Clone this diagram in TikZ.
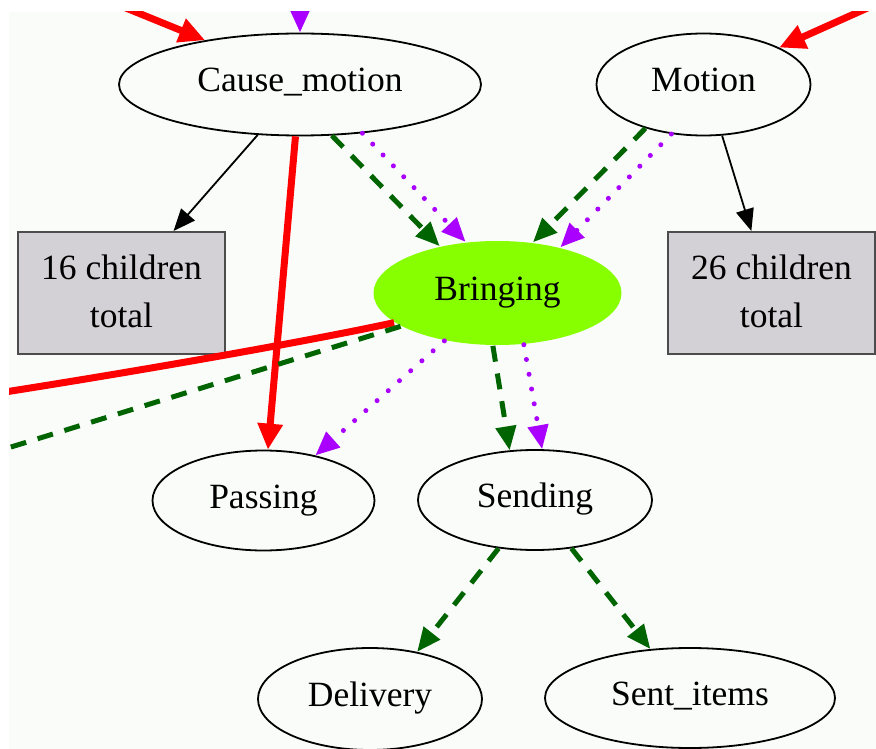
\documentclass[tikz,border=0pt]{standalone}
\usepackage{fontspec}
\setmainfont{Liberation Serif}
\usetikzlibrary{shapes.geometric,arrows.meta}
\definecolor{bgc}{RGB}{250,252,250}
\definecolor{gvgreen}{RGB}{0,100,0}
\definecolor{gvpurple}{RGB}{170,0,255}
\definecolor{gvred}{RGB}{255,0,0}
\definecolor{boxgray}{RGB}{211,209,214}
\definecolor{bringfill}{RGB}{136,255,0}
\begin{document}
\begin{tikzpicture}[x=1pt,y=-1pt,
  ell/.style={ellipse, draw=black, line width=1.8pt, inner sep=0pt, text height=23pt, text depth=8pt, font=\fontsize{35.5}{42}\selectfont},
  kidbox/.style={rectangle, draw=black!70, fill=boxgray, line width=2pt, inner sep=0pt, minimum width=207pt, minimum height=122pt, align=center, font=\fontsize{35.5}{48}\selectfont},
  plainedge/.style={draw=black, line width=1.8pt, -{Triangle[length=22pt,width=18pt]}},
  redge/.style={draw=gvred, line width=7pt, -{Triangle[length=26pt,width=24pt]}},
  redline/.style={draw=gvred, line width=7pt},
  gedge/.style={draw=gvgreen, line width=5pt, dash pattern=on 16pt off 12pt, -{Triangle[length=24pt,width=20pt]}},
  gline/.style={draw=gvgreen, line width=5pt, dash pattern=on 16pt off 12pt},
  pedge/.style={draw=gvpurple, line width=5pt, line cap=round, dash pattern=on 0pt off 15pt, -{Triangle[length=24pt,width=20pt]}},
]
\useasboundingbox (0,0) rectangle (876,749);
\fill[white] (0,0) rectangle (876,749);
\fill[bgc] (9,12) rectangle (876,749);

% nodes
\node[ell, minimum width=362pt, minimum height=102pt] (cm) at (300,84.5) {Cause\_motion};
\node[ell, minimum width=214pt, minimum height=102pt] (mo) at (703.5,84.5) {Motion};
\node[kidbox] (k16) at (121.5,293) {\raisebox{3pt}{16 children}\\\raisebox{3pt}{total}};
\node[kidbox] (k26) at (771.5,293) {\raisebox{3pt}{26 children}\\\raisebox{3pt}{total}};
\node[ell, draw=none, fill=bringfill, minimum width=248pt, minimum height=104pt] (br) at (497.5,293) {Bringing};
\node[ell, minimum width=222pt, minimum height=100pt] (pa) at (263.5,500.5) {Passing};
\node[ell, minimum width=234pt, minimum height=100pt] (se) at (535,500) {Sending};
\node[ell, minimum width=224pt, minimum height=102pt] (de) at (370,699) {Delivery};
\node[ell, minimum width=290pt, minimum height=100pt] (si) at (690,698) {Sent\_items};

\coordinate (offT1) at (40,-27);
\coordinate (offT2) at (300,-40);
\coordinate (offT3) at (950,-29);
\coordinate (offL1) at (-60,402);
\coordinate (offL2) at (-60,469);

\begin{scope}
\clip (9,12) rectangle (876,749);
\draw[redge] (offT1) -- (cm.155.5);
\draw[pedge] (offT2) -- (cm.90);
\draw[redge] (offT3) -- (mo.26.6);

\draw[plainedge] (cm.-130) -- (k16.50);
\draw[plainedge] (mo.-70) -- (k26.108);
\draw[redge] (cm.-95.5) -- (pa.85);
\draw[gedge] (cm.-58) -- (br.141);
\draw[pedge] (cm.-38) -- (br.122);
\draw[gedge] (mo.-143) -- (br.55.5);
\draw[pedge] (mo.-123) -- (br.36);

\draw[redline] (br.-164) .. controls (300,343) and (100,378) .. (offL1);
\draw[gline] (br.-161) -- (offL2);
\draw[pedge] (br.-138) -- (pa.41);
\draw[gedge] (br.-95.5) -- (se.117);
\draw[pedge] (br.-63.4) -- (se.82);
\draw[gedge] (se.-127) -- (de.45);
\draw[gedge] (se.-53) -- (si.129.6);
\end{scope}
\end{tikzpicture}
\end{document}
